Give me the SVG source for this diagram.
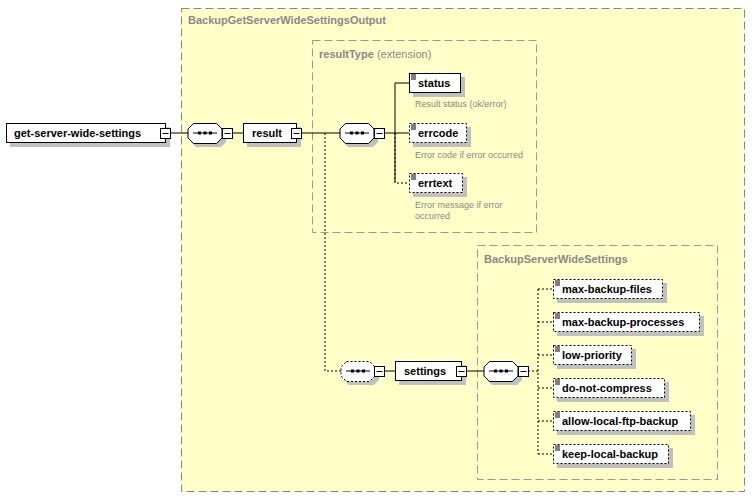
<svg xmlns="http://www.w3.org/2000/svg" width="752" height="499" viewBox="0 0 752 499">
<style>
text{font-family:"Liberation Sans",Arial,sans-serif}
.n{font-size:11px;font-weight:bold;fill:#000}
.d{font-size:9px;fill:#888}
.t{font-size:11px;font-weight:bold;fill:#888}
.box{fill:#fff;stroke:#000;stroke-width:1}
.opt{stroke-dasharray:2,2}
.sh{fill:#c0c0c0}
.grp{fill:#FFFFC8;stroke:#888;stroke-dasharray:8,4}
.grp2{fill:none;stroke:#999;stroke-dasharray:8,4}
.c{stroke:#000;fill:none}
.cd{stroke:#000;fill:none;stroke-dasharray:2,2}
.mb{fill:#fff;stroke:#000}
</style>
<defs>
<g id="minus"><rect class="mb" x="0" y="-5" width="10" height="10"/><line x1="2" y1="0" x2="8" y2="0" stroke="#000"/></g>
<g id="dots"><line x1="-12" y1="0" x2="12" y2="0" stroke="#000"/><rect x="-7" y="-1.5" width="3" height="3"/><rect x="-1.5" y="-1.5" width="3" height="3"/><rect x="4" y="-1.5" width="3" height="3"/></g>
<g id="ico"><path d="M2 2h5M2 4h5M2 6h5" stroke="#000" stroke-width="1"/></g>
</defs>
<rect class="grp" x="181.5" y="8.5" width="563" height="483"/>
<text class="t" x="188" y="24">BackupGetServerWideSettingsOutput</text>
<rect class="grp2" x="312.5" y="40.5" width="224" height="192"/>
<text class="t" x="319" y="58">resultType <tspan font-weight="normal">(extension)</tspan></text>
<rect class="grp2" x="477.5" y="245.5" width="240" height="234"/>
<text class="t" x="484" y="263">BackupServerWideSettings</text>

<g id="connectors">
<path class="c" d="M170 133H188M232 133H243M301 133H340M384 133H395M395 182V83H409M395 133H409"/>
<path class="cd" d="M395 133V183H409M325 133V371H341"/>
<path class="c" d="M384 371H395M466 371H484"/>
<path class="cd" d="M528 371H538M538 289V454M538 289H553M538 322H553M538 355H553M538 388H553M538 421H553M538 454H553"/>
</g>

<g id="root"><rect class="sh" x="10" y="127" width="160" height="20"/><rect class="box" x="6.5" y="123.5" width="159" height="19"/><text class="n" x="14" y="137">get-server-wide-settings</text><use href="#minus" x="160.5" y="133.5"/></g>
<g id="seq1"><path class="sh" d="M196 127h20l10 5v10l-5 5h-25l-5-5v-10z"/><path class="box" d="M193.5 123.5h23l5.5 5.5v9l-5.5 5.5h-23l-5.5-5.5v-9z"/><use href="#dots" x="205" y="133"/><use href="#minus" x="222.5" y="133.5"/></g>
<g id="result"><rect class="sh" x="247" y="127" width="54" height="20"/><rect class="box" x="243.5" y="123.5" width="53" height="19"/><text class="n" x="252" y="137">result</text><use href="#minus" x="291.5" y="133.5"/></g>
<g id="seq2"><path class="sh" d="M348 127h20l10 5v10l-5 5h-25l-5-5v-10z"/><path class="box" d="M345.5 123.5h23l5.5 5.5v9l-5.5 5.5h-23l-5.5-5.5v-9z"/><use href="#dots" x="357" y="133"/><use href="#minus" x="374.5" y="133.5"/></g>
<g id="status"><rect class="sh" x="413" y="77" width="52" height="20"/><rect class="box" x="409.5" y="73.5" width="51" height="19"/><use href="#ico" x="409" y="73"/><text class="n" x="418" y="87">status</text><text class="d" x="415" y="107">Result status (ok/error)</text></g>
<g id="errcode"><rect class="sh" x="413" y="127" width="58" height="20"/><rect class="box opt" x="409.5" y="123.5" width="57" height="19"/><use href="#ico" x="409" y="123"/><text class="n" x="418" y="137">errcode</text><text class="d" x="415" y="158">Error code if error occurred</text></g>
<g id="errtext"><rect class="sh" x="413" y="177" width="54" height="20"/><rect class="box opt" x="409.5" y="173.5" width="53" height="19"/><use href="#ico" x="409" y="173"/><text class="n" x="418" y="187">errtext</text><text class="d" x="415" y="208">Error message if error</text><text class="d" x="415" y="219">occurred</text></g>
<g id="seq-opt"><path class="sh" d="M349 365h20l10 5v10l-5 5h-25l-5-5v-10z"/><path class="box opt" d="M346.5 361.5h23l5.5 5.5v9l-5.5 5.5h-23l-5.5-5.5v-9z"/><use href="#dots" x="358" y="371"/><use href="#minus" x="374.5" y="371.5"/></g>
<g id="settings"><rect class="sh" x="399" y="365" width="67" height="20"/><rect class="box" x="395.5" y="361.5" width="66" height="19"/><text class="n" x="404" y="375">settings</text><use href="#minus" x="456.5" y="371.5"/></g>
<g id="seq3"><path class="sh" d="M492 365h20l10 5v10l-5 5h-25l-5-5v-10z"/><path class="box" d="M489.5 361.5h23l5.5 5.5v9l-5.5 5.5h-23l-5.5-5.5v-9z"/><use href="#dots" x="501" y="371"/><use href="#minus" x="518.5" y="371.5"/></g>
<g id="max-backup-files"><rect class="sh" x="557" y="283" width="110" height="20"/><rect class="box opt" x="553.5" y="279.5" width="109" height="19"/><use href="#ico" x="553" y="279"/><text class="n" x="562" y="293">max-backup-files</text></g>
<g id="max-backup-processes"><rect class="sh" x="557" y="316" width="147" height="20"/><rect class="box opt" x="553.5" y="312.5" width="146" height="19"/><use href="#ico" x="553" y="312"/><text class="n" x="562" y="326">max-backup-processes</text></g>
<g id="low-priority"><rect class="sh" x="557" y="349" width="79" height="20"/><rect class="box opt" x="553.5" y="345.5" width="78" height="19"/><use href="#ico" x="553" y="345"/><text class="n" x="562" y="359">low-priority</text></g>
<g id="do-not-compress"><rect class="sh" x="557" y="382" width="112" height="20"/><rect class="box opt" x="553.5" y="378.5" width="111" height="19"/><use href="#ico" x="553" y="378"/><text class="n" x="562" y="392">do-not-compress</text></g>
<g id="allow-local-ftp-backup"><rect class="sh" x="557" y="415" width="138" height="20"/><rect class="box opt" x="553.5" y="411.5" width="137" height="19"/><use href="#ico" x="553" y="411"/><text class="n" x="562" y="425">allow-local-ftp-backup</text></g>
<g id="keep-local-backup"><rect class="sh" x="557" y="448" width="116" height="20"/><rect class="box opt" x="553.5" y="444.5" width="115" height="19"/><use href="#ico" x="553" y="444"/><text class="n" x="562" y="458">keep-local-backup</text></g>
</svg>
